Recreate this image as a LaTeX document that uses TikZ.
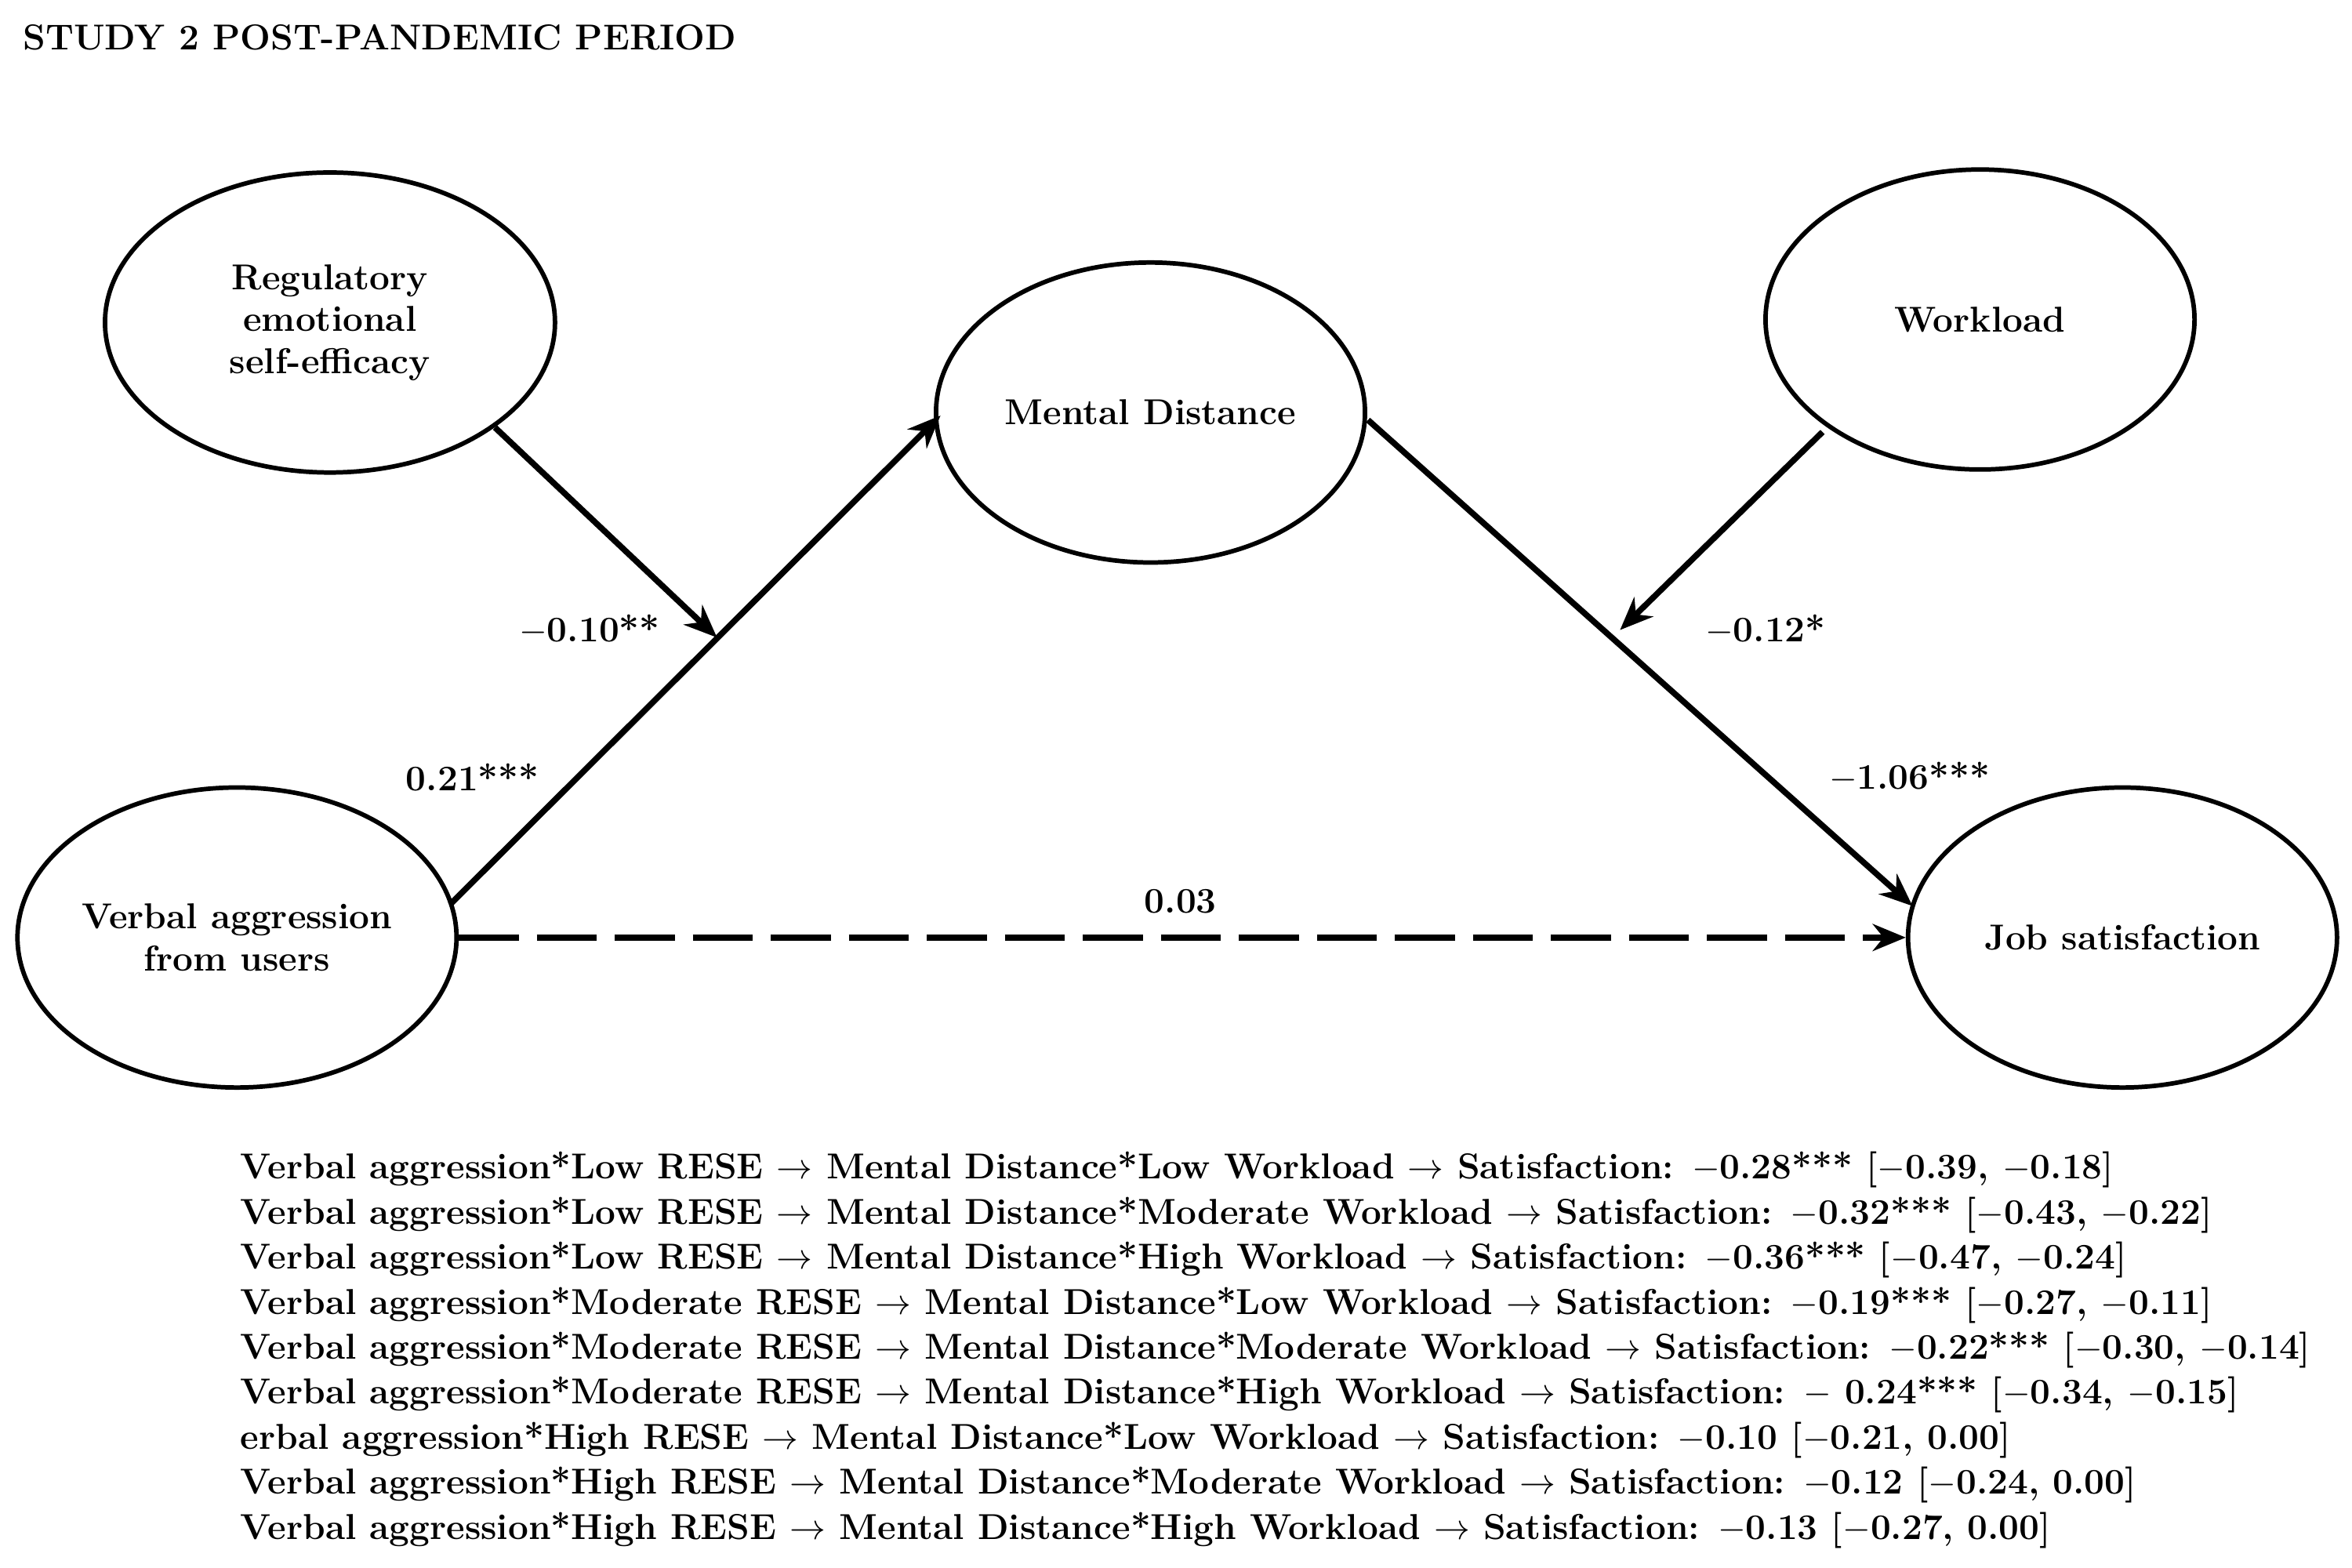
\documentclass[tikz,border=0pt]{standalone}
\usetikzlibrary{shapes.geometric,arrows.meta}
\begin{document}
\begin{tikzpicture}[x=0.5pt,y=-0.5pt,
  lat/.style={ellipse,draw,line width=1.5pt,minimum width=143pt,minimum height=100pt,align=center,font=\bfseries\large,inner sep=0pt},
  arr/.style={line width=2pt,-{Stealth[length=11pt,width=9pt]}},
  lab/.style={font=\bfseries\large},
  ln/.style={font=\bfseries\large,anchor=west,inner sep=0pt}]
\useasboundingbox (0,0) rectangle (1568,1045);
\node[anchor=west,font=\bfseries\large,inner sep=0pt] (title) at (15,25) {STUDY 2 POST-PANDEMIC PERIOD};
\node[lat,minimum width=150pt] (rese) at (220,215) {Regulatory\\emotional\\self-efficacy};
\node[lat] (md) at (767,275) {Mental Distance};
\node[lat] (wl) at (1320,213) {Workload};
\node[lat] (va) at (158,625) {Verbal aggression\\from users};
\node[lat] (js) at (1415,625) {Job satisfaction};
\coordinate (a1) at (300,603); \coordinate (a2) at (627,277);
\coordinate (b1) at (912,280); \coordinate (b2) at (1275,604);
\coordinate (c1) at (330,285); \coordinate (c2) at (478,425);
\coordinate (d1) at (1215,288); \coordinate (d2) at (1080,420);
\draw[arr] (a1) -- (a2);
\draw[arr] (b1) -- (b2);
\draw[arr] (c1) -- (c2);
\draw[arr] (d1) -- (d2);
\draw[arr,dash pattern=on 20pt off 6pt] (va.east) -- (js.west);
\node[lab] (l1) at (393,420) {$-$0.10**};
\node[lab] (l2) at (315,518) {0.21***};
\node[lab] (l3) at (1177,420) {$-$0.12*};
\node[lab] (l4) at (1273,518) {$-$1.06***};
\node[lab] (l5) at (787,601) {0.03};
\def\ar{$\rightarrow$}
\node[ln] (t1) at (160,780) {Verbal aggression*Low RESE \ar{} Mental Distance*Low Workload \ar{} Satisfaction: $-$0.28*** [$-$0.39, $-$0.18]};
\node[ln] (t2) at (160,810) {Verbal aggression*Low RESE \ar{} Mental Distance*Moderate Workload \ar{} Satisfaction: $-$0.32*** [$-$0.43, $-$0.22]};
\node[ln] (t3) at (160,840) {Verbal aggression*Low RESE \ar{} Mental Distance*High Workload \ar{} Satisfaction: $-$0.36*** [$-$0.47, $-$0.24]};
\node[ln] (t4) at (160,870) {Verbal aggression*Moderate RESE \ar{} Mental Distance*Low Workload \ar{} Satisfaction: $-$0.19*** [$-$0.27, $-$0.11]};
\node[ln] (t5) at (160,900) {Verbal aggression*Moderate RESE \ar{} Mental Distance*Moderate Workload \ar{} Satisfaction: $-$0.22*** [$-$0.30, $-$0.14]};
\node[ln] (t6) at (160,930) {Verbal aggression*Moderate RESE \ar{} Mental Distance*High Workload \ar{} Satisfaction: $-$ 0.24*** [$-$0.34, $-$0.15]};
\node[ln] (t7) at (160,960) {erbal aggression*High RESE \ar{} Mental Distance*Low Workload \ar{} Satisfaction: $-$0.10 [$-$0.21, 0.00]};
\node[ln] (t8) at (160,990) {Verbal aggression*High RESE \ar{} Mental Distance*Moderate Workload \ar{} Satisfaction: $-$0.12 [$-$0.24, 0.00]};
\node[ln] (t9) at (160,1020) {Verbal aggression*High RESE \ar{} Mental Distance*High Workload \ar{} Satisfaction: $-$0.13 [$-$0.27, 0.00]};
\end{tikzpicture}
\end{document}
